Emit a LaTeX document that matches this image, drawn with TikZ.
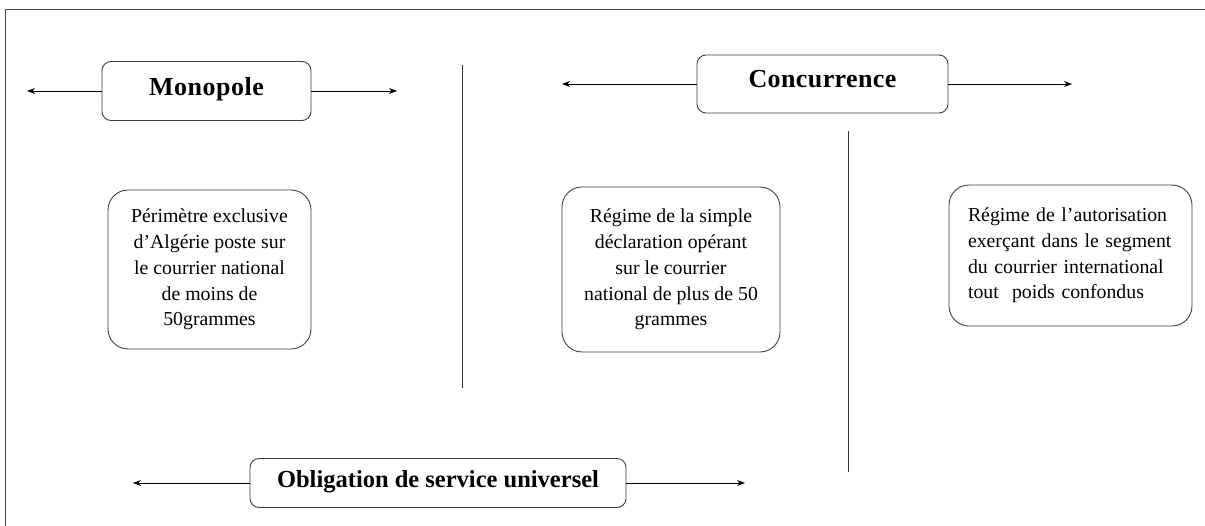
\documentclass[tikz,border=0pt]{standalone}
\usepackage{fontspec}
\setmainfont{Liberation Serif}
\usetikzlibrary{arrows.meta}
\begin{document}
\begin{tikzpicture}[x=1pt,y=-1pt,
  titlebox/.style={draw=black!75, line width=0.9pt, rounded corners=9pt, fill=white,
    font=\fontsize{24.5}{28}\selectfont\bfseries, inner sep=0pt},
  bigtitle/.style={font=\fontsize{26}{30}\selectfont\bfseries},
  textbox/.style={draw=black!75, line width=0.9pt, rounded corners=20pt, fill=white,
    font=\fontsize{19.8}{25.8}\selectfont, align=center, inner sep=0pt},
  arr/.style={-{Stealth[length=8pt,width=6pt]}, line width=0.9pt},
  sep/.style={line width=0.9pt, draw=black!80},
  frame/.style={line width=0.8pt, draw=black!70}]
\useasboundingbox (0,0) rectangle (1205,526);
% frame
\coordinate (f1) at (5,526);
\coordinate (f2) at (5,9);
\coordinate (f3) at (1205,9);
\draw[frame] (f1) -- (f2) -- (f3);
% title boxes
\node[titlebox, bigtitle, minimum width=209pt, minimum height=59pt] (mono) at (206.5,91)
  {\raisebox{10pt}{\addfontfeature{LetterSpace=2}Monopole}};
\node[titlebox, bigtitle, minimum width=251pt, minimum height=58pt] (conc) at (822.5,84)
  {\raisebox{10pt}{\addfontfeature{LetterSpace=1.5}Concurrence}};
\node[titlebox, minimum width=376pt, minimum height=49pt] (obl) at (438,483)
  {\raisebox{8pt}{Obligation de service universel}};
% arrow ends
\coordinate (monoL) at (27,91);
\coordinate (monoR) at (397,91);
\coordinate (concL) at (562,84);
\coordinate (concR) at (1072,84);
\coordinate (oblL) at (133,483);
\coordinate (oblR) at (745,483);
\draw[arr] (mono.west) -- (monoL);
\draw[arr] (mono.east) -- (monoR);
\draw[arr] (conc.west) -- (concL);
\draw[arr] (conc.east) -- (concR);
\draw[arr] (obl.west) -- (oblL);
\draw[arr] (obl.east) -- (oblR);
% separators
\coordinate (s1a) at (462,65);
\coordinate (s1b) at (462,388);
\coordinate (s2a) at (848,131);
\coordinate (s2b) at (848,472);
\draw[sep] (s1a) -- (s1b);
\draw[sep] (s2a) -- (s2b);
% text boxes
\node[textbox, minimum width=203pt, minimum height=159pt] (b1) at (209.5,269.5)
  {Périmètre exclusive\\d’Algérie poste sur\\le courrier national\\de moins de\\50grammes};
\node[textbox, minimum width=218pt, minimum height=165pt] (b2) at (671,269.5)
  {Régime de la simple\\déclaration opérant\\sur le courrier\\national de plus de 50\\grammes};
\node[textbox, minimum width=243pt, minimum height=141pt, align=left, text width=205pt] (b3) at (1070.5,255.5)
  {Régime de l’autorisation\\exerçant dans le segment\\du courrier international\\tout\ \ poids confondus};
\end{tikzpicture}
\end{document}
